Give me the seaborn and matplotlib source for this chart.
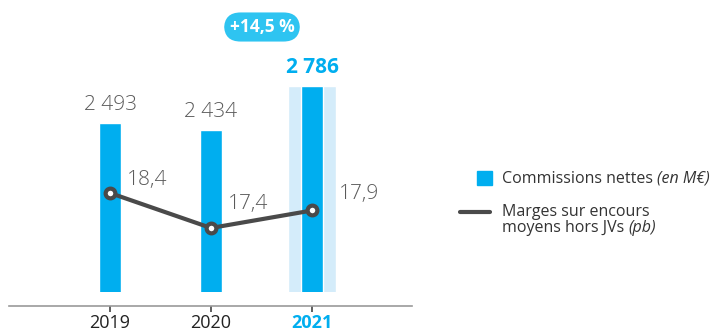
import matplotlib
matplotlib.use("Agg")
import matplotlib.pyplot as plt
import seaborn as sns
import pandas as pd
from matplotlib.patches import Rectangle
from matplotlib.lines import Line2D

# Data
years = ["2019", "2020", "2021"]
commissions = [2493, 2434, 2786]          # Commissions nettes (en M€)
margins = [18.4, 17.4, 17.9]              # Marges sur encours moyens hors JVs (pb)
commission_labels = ["2 493", "2 434", "2 786"]
margin_labels = ["18,4", "17,4", "17,9"]
growth_label = "+14,5 %"

BLUE = "#00AEEF"
LIGHT_BLUE = "#D4ECFA"
BADGE = "#2EC4F1"
DARK = "#4A4A4A"
GREY_TXT = "#5A5A5A"

sns.set_theme(style="white")
plt.rcParams["font.family"] = ["Open Sans", "DejaVu Sans"]

W, H = 722, 334
fig = plt.figure(figsize=(W / 100, H / 100), dpi=100)
ax = fig.add_axes([9 / W, 1 - 292 / H, 403 / W, 292 / H])

df = pd.DataFrame({"year": years, "commissions": commissions, "margin": margins})

# highlight band behind the latest year
ax.bar([2], [commissions[2]], width=0.475, color=LIGHT_BLUE, zorder=1)
sns.barplot(data=df, x="year", y="commissions", color=BLUE, width=0.22,
            saturation=1, ax=ax, zorder=2)

ax.set_xlim(-1.0, 2.99)
ax.set_ylim(1155, 3467)
ax.set_xlabel("")
ax.set_ylabel("")
ax.set_yticks([])

for s in ["left", "right", "top"]:
    ax.spines[s].set_visible(False)
ax.spines["bottom"].set_position(("outward", 10))
ax.spines["bottom"].set_color("#9A9A9A")
ax.spines["bottom"].set_linewidth(1.2)
ax.tick_params(axis="x", bottom=True, length=4.5, width=1.1, color="#333333",
               pad=1, labelsize=13, labelcolor="#222222")
ax.set_xticks(range(len(years)))
ax.set_xticklabels(years)
lbl = ax.get_xticklabels()[2]
lbl.set_color(BLUE)
lbl.set_fontweight("bold")

# value labels above bars
for i, (v, t) in enumerate(zip(commissions, commission_labels)):
    if i == 2:
        ax.annotate(t, (i, v), xytext=(0, 6), textcoords="offset points",
                    ha="center", va="bottom", fontsize=15, fontweight="bold",
                    color=BLUE)
    else:
        ax.annotate(t, (i, v), xytext=(0, 6), textcoords="offset points",
                    ha="center", va="bottom", fontsize=15, fontweight="light",
                    color=GREY_TXT)

# margin line on a twin axis
ax2 = ax.twinx()
ax2.set_ylim(15.571, 23.914)
ax2.set_yticks([])
for s in ax2.spines.values():
    s.set_visible(False)
sns.lineplot(data=df, x="year", y="margin", ax=ax2, color=DARK, linewidth=3,
             marker="o", markersize=7, markerfacecolor="white",
             markeredgecolor=DARK, markeredgewidth=3, zorder=5)
ax2.set_xlabel("")
ax2.set_ylabel("")

label_offsets = [(12, 9.5), (12.5, 17), (19.5, 12)]
for i, (v, t) in enumerate(zip(margins, margin_labels)):
    ax2.annotate(t, (i, v), xytext=label_offsets[i], textcoords="offset points",
                 ha="left", va="center", fontsize=15, fontweight="light",
                 color=GREY_TXT)

# growth badge
fig.text(262 / W, 1 - 27 / H, growth_label, ha="center", va="center",
         fontsize=12.5, fontweight="bold", color="white",
         bbox=dict(boxstyle="round,pad=0.32,rounding_size=0.95", fc=BADGE,
                   ec="none"))

# legend
fig.patches.append(Rectangle((477 / W, 1 - 185 / H), 15 / W, 14 / H,
                             transform=fig.transFigure, color=BLUE))
fig.lines.append(Line2D([460 / W, 490 / W], [1 - 212 / H, 1 - 212 / H],
                        transform=fig.transFigure, color=DARK, linewidth=3,
                        solid_capstyle="round"))
LEG_FS = 11.5
leg_kw = dict(fontsize=LEG_FS, color="#333333", va="center", ha="left")
t1 = fig.text(502 / W, 1 - 179 / H, "Commissions nettes ", **leg_kw)
ax.annotate("(en M€)", xy=(1, 0.5), xycoords=t1, va="center", ha="left",
            fontsize=LEG_FS, color="#333333", style="italic")
fig.text(502 / W, 1 - 212 / H, "Marges sur encours", **leg_kw)
t3 = fig.text(502 / W, 1 - 228 / H, "moyens hors JVs ", **leg_kw)
ax.annotate("(pb)", xy=(1, 0.5), xycoords=t3, va="center", ha="left",
            fontsize=LEG_FS, color="#333333", style="italic")

fig.savefig("out.png", dpi=100)
